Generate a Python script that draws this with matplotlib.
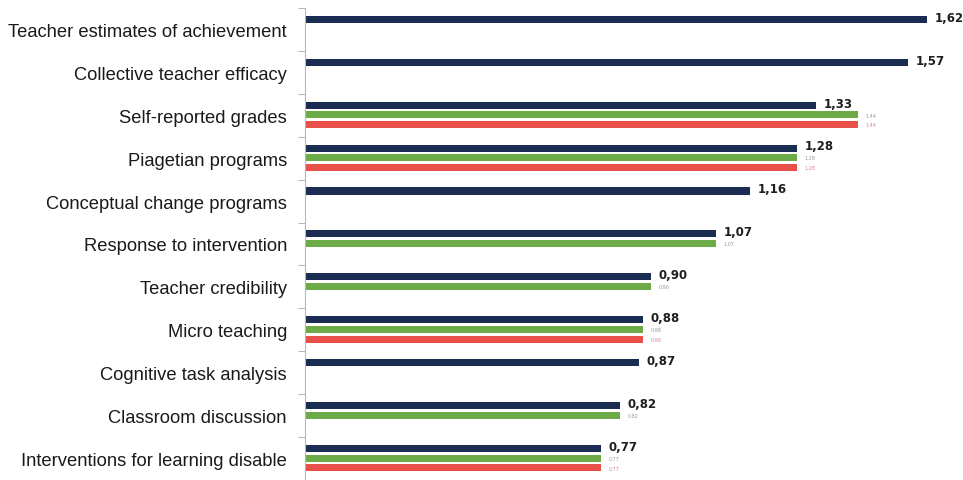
import numpy as np
import matplotlib
matplotlib.use("Agg")
import matplotlib.pyplot as plt
from matplotlib import font_manager

categories = [
    "Teacher estimates of achievement",
    "Collective teacher efficacy",
    "Self-reported grades",
    "Piagetian programs",
    "Conceptual change programs",
    "Response to intervention",
    "Teacher credibility",
    "Micro teaching",
    "Cognitive task analysis",
    "Classroom discussion",
    "Interventions for learning disable",
]
navy_vals = [1.62, 1.57, 1.33, 1.28, 1.16, 1.07, 0.90, 0.88, 0.87, 0.82, 0.77]
green_vals = [None, None, 1.44, 1.28, None, 1.07, 0.90, 0.88, None, 0.82, 0.77]
red_vals = [None, None, 1.44, 1.28, None, None, None, 0.88, None, None, 0.77]

names = {f.name for f in font_manager.fontManager.ttflist}
label_font = "Liberation Sans Narrow" if "Liberation Sans Narrow" in names else "Liberation Sans"

fig = plt.figure(figsize=(9.63, 4.81), dpi=100)
ax = fig.add_axes([305/963, 0.0, 1 - 305/963, 1 - 9/481])

n = len(categories)
y = np.arange(n)
offs = [-0.235, -0.01, 0.215]
th = 0.165
series = [
    (navy_vals, "#1a2c52", 8.5, "#1e1e1e", "bold"),
    (green_vals, "#6cab48", 3.5, "#9a9a9a", "normal"),
    (red_vals, "#e9504a", 3.5, "#d08a8a", "normal"),
]
for (vals, col, fs, tcol, fw), off in zip(series, offs):
    for i, v in enumerate(vals):
        if v is None:
            continue
        ax.barh(y[i] + off, v, height=th, color=col, edgecolor="none")
        ax.text(v + 0.02, y[i] + off - (0.05 if fw == "bold" else 0), f"{v:.2f}".replace(".", ","),
                fontsize=fs, color=tcol, fontweight=fw, va="center", ha="left",
                family="DejaVu Sans")

ax.set_ylim(n - 0.5, -0.5)
ax.set_xlim(0, (963 - 305) / 384)
ax.set_yticks(np.arange(n + 1) - 0.5)
ax.set_yticklabels([])
ax.set_yticks(y, minor=True)
ax.set_yticklabels(categories, minor=True, fontsize=13.2, family=label_font, color="#1a1a1a")
ax.tick_params(axis="y", which="major", length=5, color="#b8b8b8", direction="out")
ax.tick_params(axis="y", which="minor", length=0, pad=13)
ax.set_xticks([])
for s in ["top", "right", "bottom"]:
    ax.spines[s].set_visible(False)
ax.spines["left"].set_color("#b8b8b8")
fig.savefig("out.png", dpi=100, facecolor="white")
